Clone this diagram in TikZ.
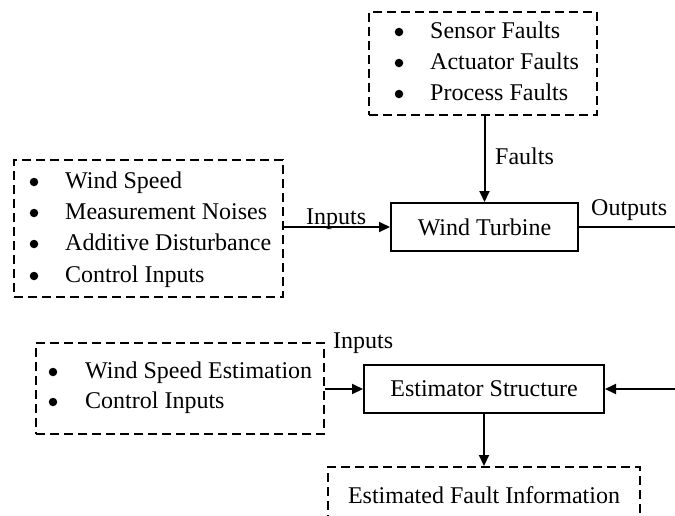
\documentclass[tikz,border=0pt]{standalone}
\usepackage{fontspec}
\setmainfont{Liberation Serif}
\usetikzlibrary{arrows.meta}
\begin{document}
\begin{tikzpicture}[x=1pt,y=-1pt,
  font=\fontsize{24}{28}\selectfont,
  block/.style={draw,line width=2pt,rectangle,inner sep=0pt},
  dbox/.style={draw,line width=2pt,dash pattern=on 9pt off 5pt,rectangle,inner sep=0pt},
  item/.style={anchor=base west,inner sep=0pt},
  dot/.style={circle,fill,inner sep=0pt,minimum size=8.5pt},
  lbl/.style={anchor=base west,inner sep=0pt},
  link/.style={line width=2pt},
  arr/.style={link,-{Triangle[length=11pt,width=10pt]}}]
\clip (0,0) rectangle (675,515);
\fill[white] (0,0) rectangle (675,515);

% fault sources
\node[dbox,minimum width=228pt,minimum height=103pt] (faults) at (483,63.5) {};
\node[dot] (fb1) at (399,32) {};
\node[dot] (fb2) at (399,63) {};
\node[dot] (fb3) at (399,94) {};
\node[item] (f1) at (430,38) {Sensor Faults};
\node[item] (f2) at (430,69) {Actuator Faults};
\node[item] (f3) at (430,100) {Process Faults};

% plant inputs
\node[dbox,minimum width=269pt,minimum height=137pt] (pin) at (148.5,228.5) {};
\node[dot] (pb1) at (34,182) {};
\node[dot] (pb2) at (34,213) {};
\node[dot] (pb3) at (34,244) {};
\node[dot] (pb4) at (34,276) {};
\node[item] (p1) at (65,188) {Wind Speed};
\node[item] (p2) at (65,219) {Measurement Noises};
\node[item] (p3) at (65,250) {Additive Disturbance};
\node[item] (p4) at (65,282) {Control Inputs};

% plant
\node[block,minimum width=187pt,minimum height=48pt] (wt) at (484.5,227) {Wind Turbine};
\coordinate (outend) at (675,227);
\draw[arr] (faults.south -| wt.north) -- (wt.north);
\draw[arr] (pin.east |- wt.west) -- (wt.west);
\draw[link] (wt.east) -- (outend);
\node[lbl] (lfaults) at (495,164) {Faults};
\node[lbl] (linputs) at (306,224) {Inputs};
\node[lbl] (loutputs) at (591,215) {Outputs};

% estimator inputs
\node[dbox,minimum width=288pt,minimum height=91pt] (ein) at (180,388) {};
\node[dot] (eb1) at (53,372) {};
\node[dot] (eb2) at (53,402) {};
\node[item] (e1) at (85,378) {Wind Speed Estimation};
\node[item] (e2) at (85,408) {Control Inputs};

% estimator
\node[block,minimum width=240pt,minimum height=48pt] (est) at (484,389) {Estimator Structure};
\coordinate (rin) at (675,389);
\draw[arr] (ein.east |- est.west) -- (est.west);
\draw[arr] (rin) -- (est.east);
\node[lbl] (linputs2) at (333,348) {Inputs};

% estimated faults
\node[dbox,minimum width=312pt,minimum height=70pt] (efi) at (484,502) {};
\node[anchor=base,inner sep=0pt] (efit) at (484,503) {Estimated Fault Information};
\draw[arr] (est.south) -- (est.south |- efi.north);
\end{tikzpicture}
\end{document}
